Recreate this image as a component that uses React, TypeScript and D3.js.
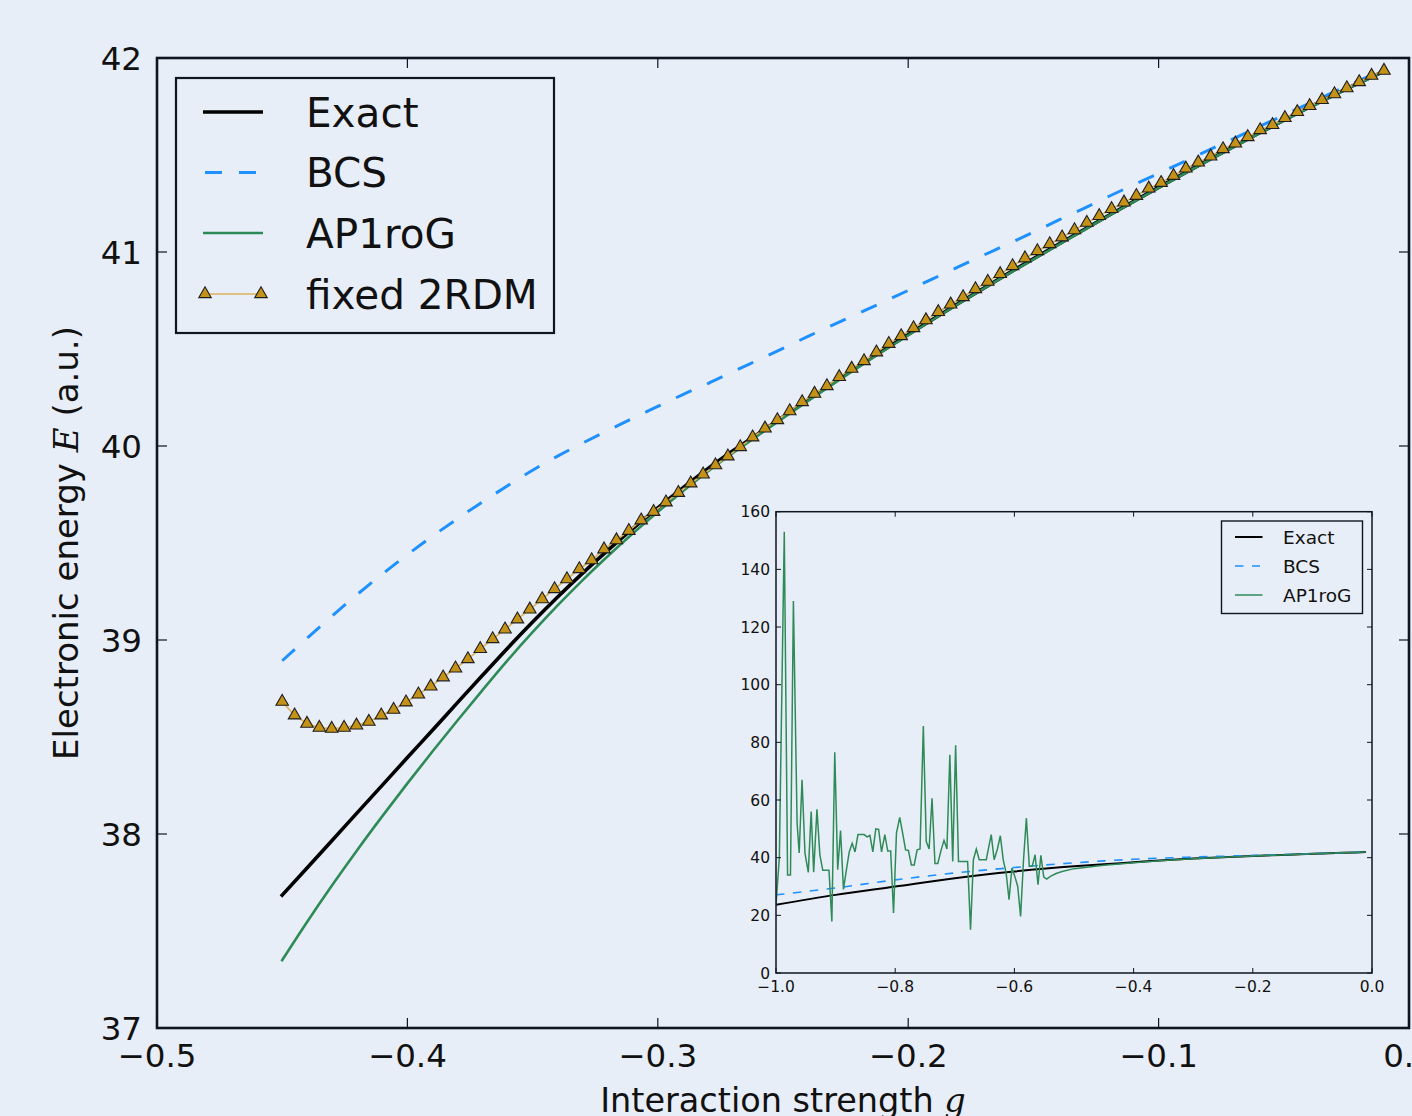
import React from 'react';
import * as d3 from 'd3';

const W = 1412;
const H = 1116;
const BG = '#e8eef8';
const FRAME = '#0e1622';
const FONT = "'DejaVu Sans', sans-serif";
const MATH = "'DejaVu Serif', 'Liberation Serif', serif";

// ---- Main panel: pairing strength g vs. electronic energy ----
const exactG = [-0.45, -0.44, -0.43, -0.42, -0.41, -0.4, -0.39, -0.38, -0.37, -0.36, -0.35, -0.34, -0.33, -0.32, -0.31, -0.3, -0.29, -0.28, -0.27, -0.26, -0.24, -0.22, -0.2, -0.18, -0.16, -0.14, -0.12, -0.1, -0.08, -0.06, -0.04, -0.02, -0.01];
const exactE = [37.685, 37.826, 37.968, 38.11, 38.252, 38.394, 38.535, 38.677, 38.818, 38.958, 39.093, 39.222, 39.345, 39.462, 39.574, 39.681, 39.784, 39.883, 39.975, 40.062, 40.238, 40.41, 40.575, 40.735, 40.89, 41.04, 41.188, 41.333, 41.475, 41.612, 41.745, 41.872, 41.932];
const ap1rogE = [37.35, 37.548, 37.737, 37.918, 38.092, 38.261, 38.425, 38.585, 38.742, 38.895, 39.04, 39.178, 39.309, 39.432, 39.549, 39.66, 39.767, 39.869, 39.964, 40.054, 40.232, 40.405, 40.571, 40.732, 40.887, 41.037, 41.186, 41.331, 41.473, 41.61, 41.743, 41.87, 41.93];

const bcsG = [-0.45, -0.44, -0.43, -0.42, -0.41, -0.4, -0.39, -0.38, -0.37, -0.36, -0.35, -0.34, -0.33, -0.32, -0.31, -0.3, -0.29, -0.28, -0.27, -0.26, -0.25, -0.24, -0.23, -0.22, -0.21, -0.2, -0.19, -0.18, -0.17, -0.16, -0.15, -0.14, -0.13, -0.12, -0.11, -0.1, -0.09, -0.08, -0.07, -0.06, -0.05, -0.04, -0.03, -0.02, -0.01];
const bcsE = [38.893, 39.01, 39.125, 39.235, 39.34, 39.44, 39.535, 39.625, 39.712, 39.795, 39.875, 39.948, 40.015, 40.08, 40.143, 40.204, 40.265, 40.322, 40.383, 40.443, 40.503, 40.565, 40.624, 40.683, 40.742, 40.802, 40.863, 40.923, 40.983, 41.042, 41.102, 41.164, 41.224, 41.286, 41.346, 41.405, 41.465, 41.525, 41.585, 41.645, 41.705, 41.765, 41.825, 41.883, 41.94];

// fixed-2RDM points sit on an even grid between these two couplings
const fixedFirstG = -0.45;
const fixedLastG = -0.01;
const fixedE = [
  38.682, 38.612, 38.569, 38.548, 38.543, 38.548, 38.56, 38.579, 38.612, 38.641,
  38.679, 38.72, 38.761, 38.808, 38.854, 38.902, 38.954, 39.005, 39.055, 39.107,
  39.158, 39.211, 39.263, 39.314, 39.366, 39.412, 39.468, 39.515, 39.563, 39.617,
  39.661, 39.71, 39.759, 39.808, 39.854, 39.901, 39.947, 39.995, 40.045,
  40.091, 40.134, 40.18, 40.227, 40.27, 40.309, 40.356, 40.399, 40.438, 40.483,
  40.527, 40.567, 40.608, 40.649, 40.691, 40.73, 40.768, 40.809, 40.847, 40.887,
  40.928,
  40.968, 41.005, 41.041, 41.076, 41.113, 41.151, 41.186, 41.222, 41.256, 41.29,
  41.328, 41.357, 41.393, 41.431, 41.462, 41.493, 41.531, 41.56, 41.593, 41.629,
  41.655, 41.691, 41.722, 41.753, 41.784, 41.814, 41.845, 41.876, 41.909, 41.935,
];

const mainXTicks = [-0.5, -0.4, -0.3, -0.2, -0.1, 0.0];
const mainXTickLabels = ['\u22120.5', '\u22120.4', '\u22120.3', '\u22120.2', '\u22120.1', '0.0'];
const mainYTicks = [37, 38, 39, 40, 41, 42];
const mainYTickLabels = ['37', '38', '39', '40', '41', '42'];

// ---- Inset: wide coupling range ----
const insetExactG = [-1.0, -0.9, -0.8, -0.7, -0.6, -0.5, -0.45, -0.4, -0.35, -0.3, -0.25, -0.2, -0.15, -0.1, -0.05, -0.01];
const insetExactE = [23.7, 27.1, 30.0, 32.9, 35.2, 37.0, 37.685, 38.394, 39.093, 39.681, 40.15, 40.575, 40.97, 41.333, 41.68, 41.932];
const insetBcsG = [-1.0, -0.9, -0.8, -0.7, -0.6, -0.5, -0.45, -0.4, -0.35, -0.3, -0.25, -0.2, -0.15, -0.1, -0.05, -0.01];
const insetBcsE = [27.1, 29.5, 32.3, 34.7, 36.6, 38.2, 38.893, 39.44, 39.875, 40.204, 40.503, 40.802, 41.102, 41.405, 41.705, 41.94];
const insetApG = [
  -1.0, -0.9944, -0.9861, -0.9806, -0.9757, -0.9708, -0.9646, -0.9611, -0.9563, -0.9514,
  -0.9458, -0.941, -0.9368, -0.9313, -0.9264, -0.9215, -0.9111, -0.9063, -0.9014, -0.8965,
  -0.8917, -0.8868, -0.8819, -0.8771, -0.8722, -0.8674, -0.8625, -0.8521, -0.8472, -0.8424,
  -0.8375, -0.8326, -0.8278, -0.8229, -0.8174, -0.8125, -0.8076, -0.8028, -0.7979, -0.7924,
  -0.7875, -0.7826, -0.7778, -0.7729, -0.7681, -0.7632, -0.7583, -0.7528, -0.7479, -0.7431,
  -0.7382, -0.7333, -0.7285, -0.7229, -0.7181, -0.7132, -0.7083, -0.7035, -0.6986, -0.6938,
  -0.6889, -0.6785, -0.6736, -0.6688, -0.6639, -0.659, -0.6472, -0.6389, -0.634, -0.6285,
  -0.6236, -0.6188, -0.6139, -0.609, -0.6042, -0.5993, -0.5944, -0.5896, -0.5847, -0.5799,
  -0.575, -0.5701, -0.5653, -0.5604, -0.5556, -0.5507, -0.5458, -0.5396, -0.53, -0.52,
  -0.5, -0.475, -0.45, -0.4, -0.35, -0.3, -0.25, -0.2, -0.15, -0.1,
  -0.05, -0.01,
];
const insetApE = [
  23.7, 40, 153, 34, 34, 129, 52, 41.6, 67, 41.6,
  34.9, 56, 35, 56.8, 41, 35.6, 35.6, 17.9, 76.6, 35.8,
  49.4, 29, 35.8, 42, 45, 42, 48, 48, 47.2, 47.7,
  42, 50, 49.8, 42, 48, 42.3, 42.3, 20.8, 48.5, 54,
  48.5, 42.7, 42.5, 37.5, 37.5, 42.7, 43, 85.7, 45.6, 43,
  60.6, 38, 38, 42.7, 46, 43, 75.7, 38.7, 79, 38.7,
  38.7, 38.7, 15, 39.3, 43, 39.3, 39.3, 48, 39.3, 43,
  47.6, 39.3, 34.7, 25.4, 36.4, 33.5, 30, 19.6, 39.3, 53.7,
  37, 37, 41, 30.6, 40.8, 33.3, 32.6, 33.5, 34.5, 35.2,
  36.2, 36.8, 37.35, 38.261, 39.04, 39.66, 40.145, 40.571, 40.965, 41.331,
  41.678, 41.93,
];
const insetXTicks = [-1.0, -0.8, -0.6, -0.4, -0.2, 0.0];
const insetXTickLabels = ['\u22121.0', '\u22120.8', '\u22120.6', '\u22120.4', '\u22120.2', '0.0'];
const insetYTicks = [0, 20, 40, 60, 80, 100, 120, 140, 160];

const COLORS = {
  exact: '#000000',
  bcs: '#1e90ff',
  ap1rog: '#2e8b57',
  fixedLine: '#dcb35c',
  fixedFill: '#c59218',
  markerEdge: '#1f1f1f',
};

const MAIN = { left: 157, right: 1409, top: 58, bottom: 1028 };
const INSET = { left: 776, right: 1372, top: 511.7, bottom: 973 };

type Pt = [number, number];
const zip = (xs: number[], ys: number[]): Pt[] => xs.map((x, i) => [x, ys[i]]);

export default function App() {
  const x = d3.scaleLinear().domain([-0.5, 0.0]).range([MAIN.left, MAIN.right]);
  const y = d3.scaleLinear().domain([37, 42]).range([MAIN.bottom, MAIN.top]);
  const ix = d3.scaleLinear().domain([-1.0, 0.0]).range([INSET.left, INSET.right]);
  const iy = d3.scaleLinear().domain([0, 160]).range([INSET.bottom, INSET.top]);

  const smoothLine = d3.line<Pt>().x((d) => x(d[0])).y((d) => y(d[1])).curve(d3.curveMonotoneX);
  const mainLine = d3.line<Pt>().x((d) => x(d[0])).y((d) => y(d[1]));
  const insetSmooth = d3.line<Pt>().x((d) => ix(d[0])).y((d) => iy(d[1])).curve(d3.curveMonotoneX);
  const insetLine = d3.line<Pt>().x((d) => ix(d[0])).y((d) => iy(d[1]));

  const fixedG = fixedE.map((_, i) => fixedFirstG + ((fixedLastG - fixedFirstG) * i) / (fixedE.length - 1));
  const fixedPts = zip(fixedG, fixedE);
  const tri = d3.symbol().type(d3.symbolTriangle).size(68)() as string;

  const mainTickLen = 10;
  const insetTickLen = 5;

  return (
    <div style={{ position: 'absolute', left: 0, top: 0, width: W, height: H, overflow: 'hidden' }}>
      <svg width={W} height={H} viewBox={`0 0 ${W} ${H}`} style={{ display: 'block', background: BG }}>
        <rect x={0} y={0} width={W} height={H} fill={BG} />

        <defs>
          <clipPath id="mainClip">
            <rect x={MAIN.left} y={MAIN.top} width={MAIN.right - MAIN.left} height={MAIN.bottom - MAIN.top} />
          </clipPath>
          <clipPath id="insetClip">
            <rect x={INSET.left} y={INSET.top} width={INSET.right - INSET.left} height={INSET.bottom - INSET.top} />
          </clipPath>
        </defs>

        {/* main curves */}
        <g clipPath="url(#mainClip)">
          <path d={smoothLine(zip(bcsG, bcsE)) || ''} fill="none" stroke={COLORS.bcs} strokeWidth={3} strokeDasharray="17 17" />
          <path d={smoothLine(zip(exactG, exactE)) || ''} fill="none" stroke={COLORS.exact} strokeWidth={3.6} strokeLinecap="square" />
          <path d={smoothLine(zip(exactG, ap1rogE)) || ''} fill="none" stroke={COLORS.ap1rog} strokeWidth={2.6} strokeLinecap="square" />
          <path d={mainLine(fixedPts) || ''} fill="none" stroke={COLORS.fixedLine} strokeWidth={1.6} />
          {fixedPts.map((p, i) => (
            <path key={i} d={tri} transform={`translate(${x(p[0])},${y(p[1])})`} fill={COLORS.fixedFill} stroke={COLORS.markerEdge} strokeWidth={1.1} />
          ))}
        </g>

        {/* main frame and ticks */}
        <rect x={MAIN.left} y={MAIN.top} width={MAIN.right - MAIN.left} height={MAIN.bottom - MAIN.top} fill="none" stroke={FRAME} strokeWidth={2.6} />
        {mainXTicks.map((t, i) => (
          <g key={`mx${i}`}>
            <line x1={x(t)} x2={x(t)} y1={MAIN.bottom} y2={MAIN.bottom - mainTickLen} stroke={FRAME} strokeWidth={1.2} />
            <line x1={x(t)} x2={x(t)} y1={MAIN.top} y2={MAIN.top + mainTickLen} stroke={FRAME} strokeWidth={1.2} />
            <text x={x(t)} y={1067} textAnchor="middle" fontFamily={FONT} fontSize={32.5} fill="#111">
              {mainXTickLabels[i]}
            </text>
          </g>
        ))}
        {mainYTicks.map((t, i) => (
          <g key={`my${i}`}>
            <line x1={MAIN.left} x2={MAIN.left + mainTickLen} y1={y(t)} y2={y(t)} stroke={FRAME} strokeWidth={1.2} />
            <line x1={MAIN.right} x2={MAIN.right - mainTickLen} y1={y(t)} y2={y(t)} stroke={FRAME} strokeWidth={1.2} />
            <text x={142} y={y(t)} dy="0.36em" textAnchor="end" fontFamily={FONT} fontSize={32.5} fill="#111">
              {mainYTickLabels[i]}
            </text>
          </g>
        ))}

        {/* axis titles */}
        <text x={(MAIN.left + MAIN.right) / 2} y={1112} textAnchor="middle" fontFamily={FONT} fontSize={33.5} fill="#111">
          Interaction strength <tspan fontFamily={MATH} fontStyle="italic">g</tspan>
        </text>
        <text transform={`translate(78, ${(MAIN.top + MAIN.bottom) / 2}) rotate(-90)`} textAnchor="middle" fontFamily={FONT} fontSize={34} fill="#111">
          Electronic energy <tspan fontFamily={MATH} fontStyle="italic">E</tspan> (a.u.)
        </text>

        {/* main legend */}
        <g>
          <rect x={176} y={78} width={378} height={255} fill={BG} stroke={FRAME} strokeWidth={2.2} />
          <line x1={203} x2={263} y1={112} y2={112} stroke={COLORS.exact} strokeWidth={3.6} />
          <line x1={205} x2={256} y1={172.5} y2={172.5} stroke={COLORS.bcs} strokeWidth={3} strokeDasharray="17 17" />
          <line x1={203} x2={263} y1={233} y2={233} stroke={COLORS.ap1rog} strokeWidth={2.6} />
          <line x1={205} x2={261} y1={294} y2={294} stroke={COLORS.fixedLine} strokeWidth={1.6} />
          <path d={tri} transform="translate(205,294)" fill={COLORS.fixedFill} stroke={COLORS.markerEdge} strokeWidth={1.1} />
          <path d={tri} transform="translate(261,294)" fill={COLORS.fixedFill} stroke={COLORS.markerEdge} strokeWidth={1.1} />
          {['Exact', 'BCS', 'AP1roG', 'fixed 2RDM'].map((s, i) => (
            <text key={s} x={306} y={126.7 + i * 60.7} fontFamily={FONT} fontSize={40.5} fill="#111">
              {s}
            </text>
          ))}
        </g>

        {/* inset */}
        <rect x={INSET.left} y={INSET.top} width={INSET.right - INSET.left} height={INSET.bottom - INSET.top} fill={BG} />
        <g clipPath="url(#insetClip)">
          <path d={insetSmooth(zip(insetExactG, insetExactE)) || ''} fill="none" stroke={COLORS.exact} strokeWidth={2} />
          <path d={insetSmooth(zip(insetBcsG, insetBcsE)) || ''} fill="none" stroke={COLORS.bcs} strokeWidth={1.6} strokeDasharray="8.5 8.5" />
          <path d={insetLine(zip(insetApG, insetApE)) || ''} fill="none" stroke={COLORS.ap1rog} strokeWidth={1.5} />
        </g>
        <rect x={INSET.left} y={INSET.top} width={INSET.right - INSET.left} height={INSET.bottom - INSET.top} fill="none" stroke={FRAME} strokeWidth={1.5} />
        {insetXTicks.map((t, i) => (
          <g key={`ix${i}`}>
            <line x1={ix(t)} x2={ix(t)} y1={INSET.bottom} y2={INSET.bottom - insetTickLen} stroke={FRAME} strokeWidth={1} />
            <line x1={ix(t)} x2={ix(t)} y1={INSET.top} y2={INSET.top + insetTickLen} stroke={FRAME} strokeWidth={1} />
            <text x={ix(t)} y={992} textAnchor="middle" fontFamily={FONT} fontSize={15.5} fill="#111">
              {insetXTickLabels[i]}
            </text>
          </g>
        ))}
        {insetYTicks.map((t, i) => (
          <g key={`iy${i}`}>
            <line x1={INSET.left} x2={INSET.left + insetTickLen} y1={iy(t)} y2={iy(t)} stroke={FRAME} strokeWidth={1} />
            <line x1={INSET.right} x2={INSET.right - insetTickLen} y1={iy(t)} y2={iy(t)} stroke={FRAME} strokeWidth={1} />
            <text x={770} y={iy(t)} dy="0.36em" textAnchor="end" fontFamily={FONT} fontSize={15.5} fill="#111">
              {String(t)}
            </text>
          </g>
        ))}

        {/* inset legend */}
        <g>
          <rect x={1221.5} y={521} width={141} height={92.5} fill={BG} stroke={FRAME} strokeWidth={1.4} />
          <line x1={1235} x2={1262.5} y1={537} y2={537} stroke={COLORS.exact} strokeWidth={2} />
          <line x1={1235} x2={1260} y1={566} y2={566} stroke={COLORS.bcs} strokeWidth={1.6} strokeDasharray="8.5 8.5" />
          <line x1={1235} x2={1262.5} y1={595} y2={595} stroke={COLORS.ap1rog} strokeWidth={1.5} />
          {['Exact', 'BCS', 'AP1roG'].map((s, i) => (
            <text key={s} x={1283} y={537 + i * 29} dy="0.36em" fontFamily={FONT} fontSize={18.5} fill="#111">
              {s}
            </text>
          ))}
        </g>
      </svg>
    </div>
  );
}
